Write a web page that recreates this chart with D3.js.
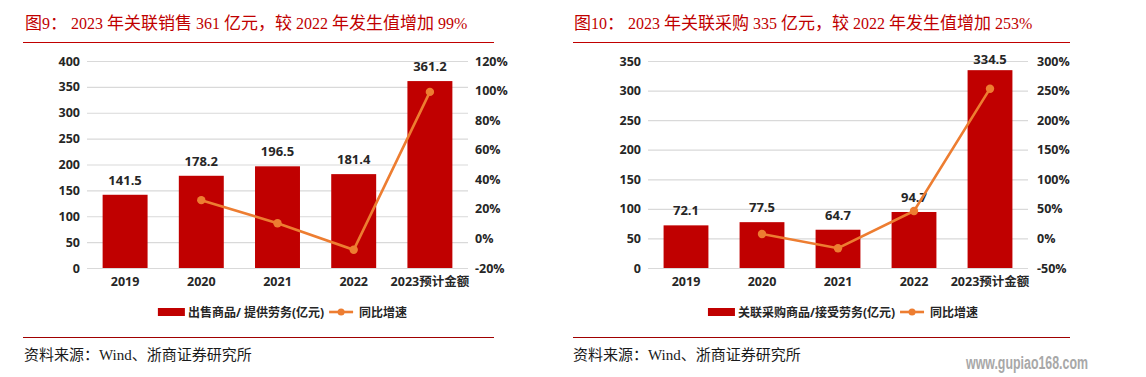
<!DOCTYPE html>
<html><head><meta charset="utf-8">
<script src="https://cdn.jsdelivr.net/npm/d3@7"></script>
<style>
html,body{margin:0;padding:0;background:#fff;}
svg{display:block;}
</style></head>
<body>
<svg id="c" width="1146" height="377"></svg>
<script>
// ---------- data ----------
const categories = ["2019", "2020", "2021", "2022", "2023预计金额"];
const salesValues = [141.5, 178.2, 196.5, 181.4, 361.2];
const salesGrowth = [null, 25.9, 10.3, -7.7, 99.1];
const purchaseValues = [72.1, 77.5, 64.7, 94.7, 334.5];
const purchaseGrowth = [null, 7.5, -16.5, 46.4, 253.2];
const salesLeftTicks = [0, 50, 100, 150, 200, 250, 300, 350, 400];
const salesRightTicks = [-20, 0, 20, 40, 60, 80, 100, 120];
const purchaseLeftTicks = [0, 50, 100, 150, 200, 250, 300, 350];
const purchaseRightTicks = [-50, 0, 50, 100, 150, 200, 250, 300];
const titles = ["图9： 2023 年关联销售 361 亿元，较 2022 年发生值增加 99%",
                "图10： 2023 年关联采购 335 亿元，较 2022 年发生值增加 253%"];
const barLegends = ["出售商品/ 提供劳务(亿元)", "关联采购商品/接受劳务(亿元)"];
const lineLegend = "同比增速";
const sourceText = "资料来源：Wind、浙商证券研究所";
const watermark = "www.gupiao168.com";

// ---------- style ----------
const RED = "#C00000", ORANGE = "#ED7D31", GRID = "#D9D9D9", TXT = "#262626";
const FONT = "'Open Sans','Noto Sans CJK SC',sans-serif";
const SERIF = "'Liberation Serif','Noto Sans CJK SC',serif";

const svg = d3.select("#c");

function panel(o) {
  const g = svg.append("g");
  // title, CJK runs slightly larger like the SimSun original
  const tt = g.append("text").attr("x", o.titleX).attr("y", 29)
    .attr("font-family", SERIF).attr("font-size", 16).attr("fill", RED)
    .style("white-space", "pre");
  const runs = o.title.match(/[\u3000-\u9fff\uff00-\uffef]+|[^\u3000-\u9fff\uff00-\uffef]+/g);
  runs.forEach(r => {
    const cjk = /[\u3000-\u9fff\uff00-\uffef]/.test(r);
    tt.append("tspan").attr("font-size", cjk ? 17 : 16).text(r);
  });
  g.append("line").attr("x1", o.lineX1).attr("x2", o.lineX2).attr("y1", 42.5).attr("y2", 42.5)
    .attr("stroke", RED).attr("stroke-width", 1.2);
  g.append("line").attr("x1", o.lineX1).attr("x2", o.lineX2).attr("y1", 337.5).attr("y2", 337.5)
    .attr("stroke", "#A00000").attr("stroke-width", 1.2);
  g.append("text").attr("x", o.titleX - 1).attr("y", 360)
    .attr("font-family", SERIF).attr("font-size", 15).attr("fill", "#1a1a1a").text(sourceText);

  const x = d3.scaleBand().domain(categories).range([o.x0, o.x1]).paddingInner(0.41).paddingOuter(0.205);
  const yL = d3.scaleLinear().domain([o.leftTicks[0], o.leftTicks[o.leftTicks.length - 1]]).range([268, 61]);
  const yR = d3.scaleLinear().domain([o.rightTicks[0], o.rightTicks[o.rightTicks.length - 1]]).range([268, 61]);

  // grid
  const grid = g.append("g").attr("transform", `translate(${o.x0},0)`)
    .call(d3.axisLeft(yL).tickValues(o.leftTicks).tickSize(-(o.x1 - o.x0)).tickFormat(""));
  grid.select(".domain").remove();
  grid.selectAll("line").attr("stroke", GRID).attr("stroke-width", 1.2);

  // left axis labels
  const al = g.append("g").attr("transform", `translate(${o.x0},0)`)
    .call(d3.axisLeft(yL).tickValues(o.leftTicks).tickSize(0).tickPadding(7));
  al.select(".domain").remove();
  al.selectAll("text").attr("font-family", FONT).attr("font-size", 12.5).attr("font-weight", 700).attr("fill", TXT);

  // right axis labels
  const ar = g.append("g").attr("transform", `translate(${o.x1},0)`)
    .call(d3.axisRight(yR).tickValues(o.rightTicks).tickSize(0).tickPadding(o.rPad).tickFormat(d => d + "%"));
  ar.select(".domain").remove();
  ar.selectAll("text").attr("font-family", FONT).attr("font-size", 12.5).attr("font-weight", 700).attr("fill", TXT);

  // x axis labels
  const ax = g.append("g").attr("transform", `translate(0,268)`)
    .call(d3.axisBottom(x).tickSize(0).tickPadding(9));
  ax.select(".domain").remove();
  ax.selectAll("text").attr("font-family", FONT).attr("font-size", 12.5).attr("font-weight", 700).attr("fill", TXT);

  // bars
  g.selectAll(".bar").data(o.values).join("rect")
    .attr("x", (d, i) => x(categories[i])).attr("width", x.bandwidth())
    .attr("y", d => yL(d)).attr("height", d => yL(0) - yL(d)).attr("fill", RED);

  g.selectAll(".vl").data(o.values).join("text")
    .attr("x", (d, i) => x(categories[i]) + x.bandwidth() / 2)
    .attr("y", d => Math.max(yL(d) - 10, 64))
    .attr("text-anchor", "middle").attr("font-family", FONT).attr("font-size", 13).attr("font-weight", 700)
    .attr("fill", TXT).text(d => d.toFixed(1));

  // line
  const pts = o.growth.map((d, i) => ({ c: categories[i], v: d })).filter(d => d.v !== null);
  const line = d3.line().x(d => x(d.c) + x.bandwidth() / 2).y(d => yR(d.v));
  g.append("path").datum(pts).attr("d", line).attr("fill", "none").attr("stroke", ORANGE).attr("stroke-width", 2.6);
  g.selectAll(".pt").data(pts).join("circle")
    .attr("cx", d => x(d.c) + x.bandwidth() / 2).attr("cy", d => yR(d.v)).attr("r", 4.2).attr("fill", ORANGE);

  // legend
  const lg = g.append("g");
  const ly = 312;
  const t1 = lg.append("text").attr("font-family", FONT).attr("font-size", 12).attr("font-weight", 700)
    .attr("fill", TXT).attr("y", ly + 4.5).text(o.barLegend);
  const t2 = lg.append("text").attr("font-family", FONT).attr("font-size", 12).attr("font-weight", 700)
    .attr("fill", TXT).attr("y", ly + 4.5).text(lineLegend);
  const w1 = t1.node().getComputedTextLength(), w2 = t2.node().getComputedTextLength();
  const total = 27 + 3 + w1 + 5 + 24 + 6 + w2;
  let sx = (o.x0 + o.x1) / 2 + 5 - total / 2;
  lg.append("rect").attr("x", sx).attr("y", ly - 4).attr("width", 27).attr("height", 8).attr("fill", RED);
  t1.attr("x", sx + 30);
  const lx = sx + 30 + w1 + 5;
  lg.append("line").attr("x1", lx).attr("x2", lx + 24).attr("y1", ly).attr("y2", ly)
    .attr("stroke", ORANGE).attr("stroke-width", 2.6);
  lg.append("circle").attr("cx", lx + 12).attr("cy", ly).attr("r", 3.5).attr("fill", ORANGE);
  t2.attr("x", lx + 30);
}

panel({ title: titles[0], titleX: 25, lineX1: 23, lineX2: 494, x0: 87, x1: 468, rPad: 7,
        leftTicks: salesLeftTicks, rightTicks: salesRightTicks, values: salesValues, growth: salesGrowth,
        barLegend: barLegends[0] });
panel({ title: titles[1], titleX: 574, lineX1: 573, lineX2: 1070, x0: 648, x1: 1028, rPad: 9,
        leftTicks: purchaseLeftTicks, rightTicks: purchaseRightTicks, values: purchaseValues, growth: purchaseGrowth,
        barLegend: barLegends[1] });

svg.append("text").attr("x", 966).attr("y", 369)
  .attr("font-family", "'Liberation Sans Narrow','Liberation Sans',Arial,sans-serif")
  .attr("font-size", 18).attr("font-weight", 700).attr("fill", "#A8A8A8")
  .attr("textLength", 122).attr("lengthAdjust", "spacingAndGlyphs").text(watermark);
</script>
</body></html>
